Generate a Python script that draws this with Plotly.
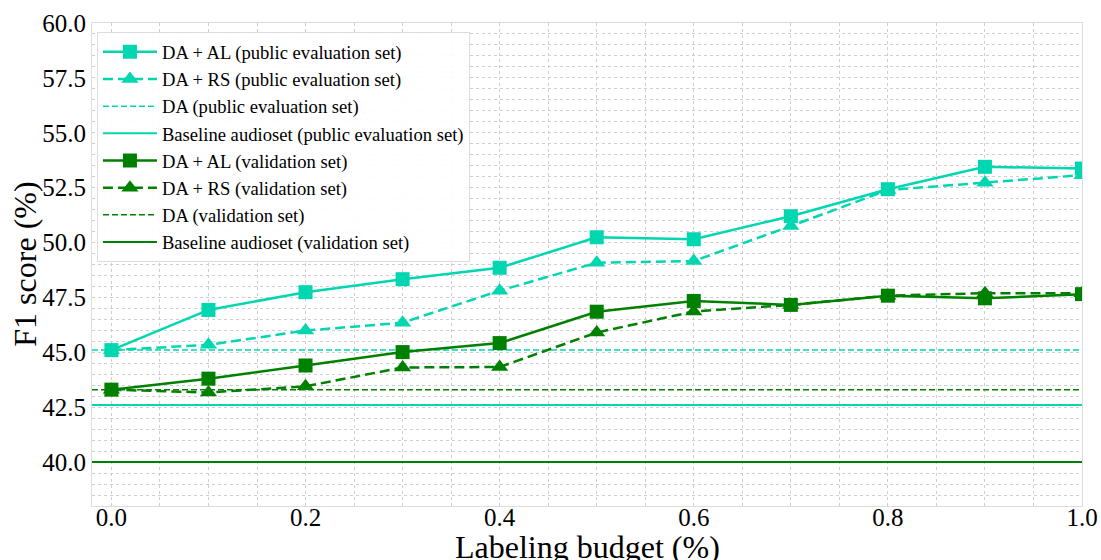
import plotly.graph_objects as go

budget = [0.0, 0.1, 0.2, 0.3, 0.4, 0.5, 0.6, 0.7, 0.8, 0.9, 1.0]

al_public = [45.1, 46.93, 47.74, 48.33, 48.85, 50.24, 50.15, 51.2, 52.43, 53.45, 53.37]
rs_public = [45.1, 45.34, 45.99, 46.35, 47.81, 49.08, 49.16, 50.75, 52.39, 52.72, 53.07]
da_public = 45.1
base_public = 42.6

al_val = [43.3, 43.8, 44.4, 45.01, 45.42, 46.85, 47.34, 47.16, 47.58, 47.46, 47.65]
rs_val = [43.3, 43.17, 43.45, 44.31, 44.33, 45.9, 46.86, 47.16, 47.58, 47.69, 47.69]
da_val = 43.3
base_val = 40.0

x_range = [-0.02, 1.0]
y_range = [38.0, 60.0]
x_ticks = [0.0, 0.2, 0.4, 0.6, 0.8, 1.0]
y_ticks = [40.0, 42.5, 45.0, 47.5, 50.0, 52.5, 55.0, 57.5, 60.0]

CYAN = "#00d6b0"
GREEN = "#008000"
FONT = "Liberation Serif, Times New Roman, DejaVu Serif, serif"

fig = go.Figure()

def add(name, x, y, color, dash, width, symbol=None, size=14, group=None):
    mode = "lines+markers" if symbol else "lines"
    fig.add_trace(go.Scatter(
        x=x, y=y, name=name, mode=mode,
        line=dict(color=color, dash=dash, width=width),
        marker=dict(symbol=symbol, size=size, color=color) if symbol else None,
        legendgroup=group, cliponaxis=True,
    ))

add("DA + AL (public evaluation set)", budget, al_public, CYAN, "solid", 2.5, "square", 14, "g1")
add("DA + RS (public evaluation set)", budget, rs_public, CYAN, "10px,5px", 2.5, "triangle-up", 15, "g2")
add("DA (public evaluation set)", x_range, [da_public] * 2, CYAN, "6px,3px", 1.5, None, 0, "g3")
add("Baseline audioset (public evaluation set)", x_range, [base_public] * 2, CYAN, "solid", 2, None, 0, "g4")
add("DA + AL (validation set)", budget, al_val, GREEN, "solid", 2.5, "square", 14, "g5")
add("DA + RS (validation set)", budget, rs_val, GREEN, "10px,5px", 2.5, "triangle-up", 15, "g6")
add("DA (validation set)", x_range, [da_val] * 2, GREEN, "6px,3px", 1.5, None, 0, "g7")
add("Baseline audioset (validation set)", x_range, [base_val] * 2, GREEN, "solid", 2, None, 0, "g8")

grid = dict(showgrid=True, gridcolor="#cfcfcf", gridwidth=1, griddash="3px,3px")

fig.update_layout(
    width=1101, height=560,
    margin=dict(l=92, r=19, t=23, b=54, autoexpand=False),
    paper_bgcolor="white", plot_bgcolor="white",
    font=dict(family=FONT, color="black"),
    showlegend=True,
    legend=dict(
        x=0.005, y=0.981, xanchor="left", yanchor="top",
        bgcolor="rgba(255,255,255,0.9)", bordercolor="#dddddd", borderwidth=1,
        font=dict(family=FONT, size=18.6), tracegroupgap=1, itemwidth=54,
        traceorder="normal",
    ),
    xaxis=dict(
        range=x_range, tickvals=x_ticks, ticktext=[f"{v:.1f}" for v in x_ticks],
        tickfont=dict(size=25, family=FONT), automargin=False, ticklabelstandoff=-11,
        showline=True, linecolor="#dddddd", mirror=True, zeroline=False,
        minor=dict(dtick=0.05, tick0=0, showgrid=True, gridcolor="#cfcfcf", griddash="3px,3px"),
        **grid,
    ),
    yaxis=dict(
        range=y_range, tickvals=y_ticks, ticktext=[f"{v:.1f}" for v in y_ticks],
        tickfont=dict(size=25, family=FONT), automargin=False,
        showline=True, linecolor="#dddddd", mirror=True, zeroline=False,
        minor=dict(dtick=0.5, tick0=0, showgrid=True, gridcolor="#cfcfcf", griddash="3px,3px"),
        **grid,
    ),
    annotations=[
        dict(text="Labeling budget (%)", xref="paper", yref="paper", x=0.5, y=-0.085,
             xanchor="center", yanchor="middle", showarrow=False,
             font=dict(size=32, family=FONT)),
        dict(text="F1 score (%)", xref="paper", yref="paper", x=-0.0685, y=0.5,
             xanchor="center", yanchor="middle", showarrow=False, textangle=-90,
             font=dict(size=32, family=FONT)),
    ],
)

fig.write_html("out.html", config={"displayModeBar": False},
               post_script="document.body.style.margin='0';")
